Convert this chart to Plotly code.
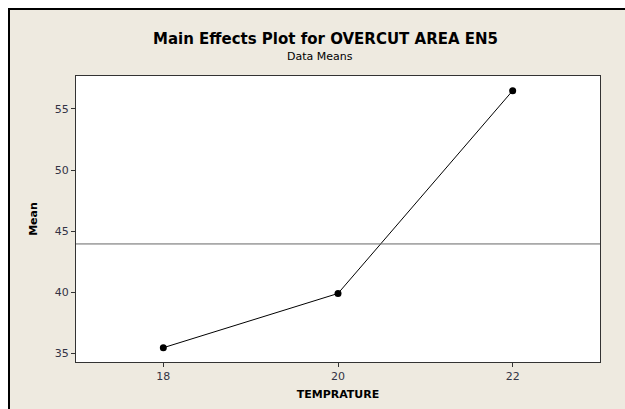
import plotly.graph_objects as go

temperature = [18, 20, 22]
mean_values = [35.46, 39.9, 56.5]
x_ticks = [18, 20, 22]
y_ticks = [35, 40, 45, 50, 55]

overall_mean = sum(mean_values) / len(mean_values)

W, H = 625, 409
L, R, T, B = 76, 25, 76, 47
pw, ph = W - L - R, H - T - B

def px(x):
    return (x - L) / pw

def py(y):
    return (H - B - y) / ph

fig = go.Figure()
fig.add_trace(go.Scatter(
    x=temperature, y=mean_values, mode="lines+markers",
    line=dict(color="black", width=1),
    marker=dict(color="black", size=7),
    showlegend=False, hoverinfo="skip"))

fig.add_hline(y=overall_mean, line=dict(color="#666666", width=1))

shapes = [
    dict(type="rect", xref="paper", yref="paper", layer="below",
         x0=px(9), x1=px(660), y0=py(440), y1=py(9),
         fillcolor="#EEEAE0", line=dict(color="black", width=2)),
    dict(type="rect", xref="paper", yref="paper", layer="below",
         x0=0, x1=1, y0=0, y1=1, fillcolor="white", line=dict(width=0)),
]
for s in shapes:
    fig.add_shape(**s)

fig.update_layout(
    width=W, height=H,
    margin=dict(l=L, r=R, t=T, b=B, pad=0, autoexpand=False),
    paper_bgcolor="white", plot_bgcolor="white",
    font=dict(family="DejaVu Sans", size=11, color="#333344"),
    showlegend=False,
    annotations=[
        dict(text="<b>Main Effects Plot for OVERCUT AREA EN5</b>", xref="paper", yref="paper",
             x=px(325), y=py(39), showarrow=False, xanchor="center", yanchor="middle",
             font=dict(size=15, color="black")),
        dict(text="Data Means", xref="paper", yref="paper",
             x=px(320), y=py(57), showarrow=False, xanchor="center", yanchor="middle",
             font=dict(size=11, color="black")),
    ],
)
fig.update_xaxes(range=[17, 23], tickvals=x_ticks, ticks="outside", ticklen=4,
                 tickcolor="#333333", showgrid=False, zeroline=False, automargin=False,
                 showline=True, linecolor="#333333", linewidth=1, mirror=True,
                 title=dict(text="<b>TEMPRATURE</b>", font=dict(size=11, color="black"), standoff=8))
fig.update_yaxes(range=[34.29, 57.7], tickvals=y_ticks, ticks="outside", ticklen=4,
                 tickcolor="#333333", showgrid=False, zeroline=False, automargin=False,
                 showline=True, linecolor="#333333", linewidth=1, mirror=True,
                 title=dict(text="<b>Mean</b>", font=dict(size=11, color="black"), standoff=14))

fig.write_html(
    "out.html",
    config={"displayModeBar": False},
    post_script="document.body.style.margin='0';document.body.style.overflow='hidden';",
)
